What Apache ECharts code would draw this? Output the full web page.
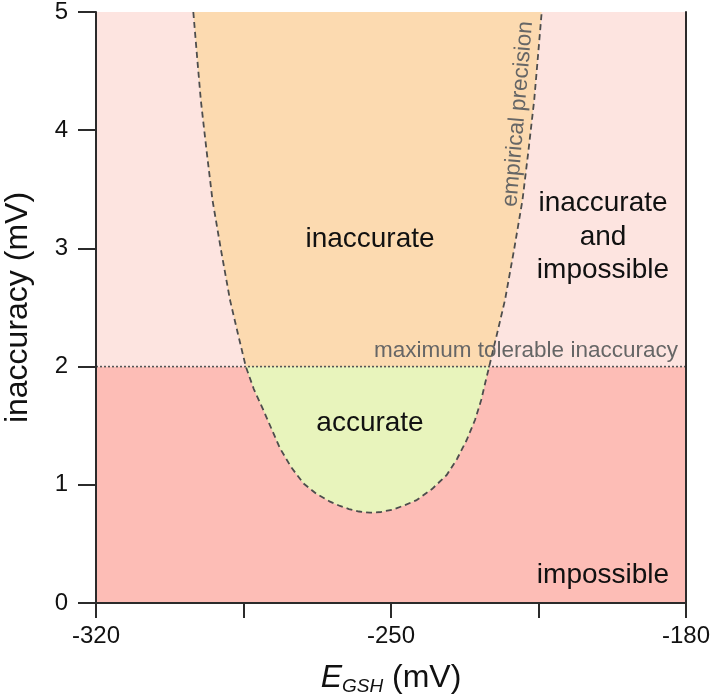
<!DOCTYPE html>
<html>
<head>
<meta charset="utf-8">
<script src="https://cdn.jsdelivr.net/npm/echarts@6/dist/echarts.min.js"></script>
<style>
  html, body { margin: 0; padding: 0; background: #fff; }
  #main { width: 710px; height: 697px; }
</style>
</head>
<body>
<div id="main"></div>
<script>
// curve (E_GSH mV, inaccuracy mV)
var curveX = [-296.91, -296.03, -295.13, -293.78, -292.36, -290.34, -288.20, -286.31, -284.45,
              -282.56, -280.30, -278.24, -276.34, -273.73, -270.81, -267.80, -264.47, -262.10,
              -259.97, -257.59, -254.98,
              -252.37, -249.52, -246.91, -243.90, -240.27, -236.78, -234.34, -232.04, -230.07,
              -228.60, -227.65, -226.70, -224.85, -222.95, -220.81, -218.80, -217.37, -216.02,
              -215.12, -214.24];
var curveY = [5.0, 4.628, 4.255, 3.832, 3.409, 2.986, 2.563, 2.276, 2.0,
              1.810, 1.633, 1.464, 1.309, 1.151, 1.013, 0.926, 0.857, 0.821,
              0.795, 0.774, 0.764,
              0.770, 0.791, 0.825, 0.871, 0.964, 1.083, 1.218, 1.379, 1.548,
              1.717, 1.861, 2.0, 2.276, 2.563, 2.986, 3.409, 3.832, 4.255,
              4.628, 5.0];
var maxTolerable = 2;
var yBands = [[0, 2], [2, 5]];
var xTicks = [-320, -250, -180];

var font = 'Liberation Sans, Arial, Helvetica, sans-serif';

var curve = [];
var inside = [];
for (var i = 0; i < curveX.length; i++) {
	curve.push([curveX[i], curveY[i]]);
	if (curveY[i] <= maxTolerable) {
		inside.push([curveX[i], curveY[i]]);
	}
}

var myChart = echarts.init(document.getElementById('main'));

var axisStyle = { color: '#2b2b2b', width: 2 };

var option = {
	animation: false,
	textStyle: { fontFamily: font },
	grid: { left: 96, right: 24, top: 12, bottom: 94, outerBoundsMode: 'none', containLabel: false },
	xAxis: [{
		type: 'value',
		min: -320,
		max: -180,
		interval: 35,
		z: 10,
		axisLine: { lineStyle: axisStyle },
		axisTick: { length: 15, lineStyle: axisStyle },
		splitLine: { show: false },
		axisLabel: {
			fontSize: 24,
			color: '#111',
			margin: 21,
			fontFamily: font,
			formatter: function (v) {
				return xTicks.indexOf(v) >= 0 ? String(v) : '';
			}
		},
		name: '{e|E}{s|GSH}{n| (mV)}',
		nameLocation: 'middle',
		nameGap: 58,
		nameTextStyle: {
			rich: {
				e: { fontSize: 32, fontStyle: 'italic', color: '#111', fontFamily: font },
				s: { fontSize: 19, fontStyle: 'italic', color: '#111', fontFamily: font, padding: [16, 0, 0, 0] },
				n: { fontSize: 32, color: '#111', fontFamily: font }
			}
		}
	}, {
		type: 'value',
		position: 'top',
		min: -320,
		max: -180,
		z: 10,
		axisLine: { lineStyle: axisStyle },
		axisTick: { show: false },
		axisLabel: { show: false },
		splitLine: { show: false }
	}],
	yAxis: [{
		type: 'value',
		min: 0,
		max: 5,
		interval: 1,
		z: 10,
		axisLine: { show: true, lineStyle: axisStyle },
		axisTick: { show: true, length: 18, lineStyle: axisStyle },
		splitLine: { show: false },
		axisLabel: { fontSize: 24, color: '#111', margin: 28, fontFamily: font },
		name: 'inaccuracy (mV)',
		nameLocation: 'middle',
		nameGap: 62,
		nameRotate: 90,
		nameTextStyle: { fontSize: 32, color: '#111', fontFamily: font }
	}, {
		type: 'value',
		position: 'right',
		min: 0,
		max: 5,
		z: 10,
		axisLine: { show: true, lineStyle: axisStyle },
		axisTick: { show: false },
		axisLabel: { show: false },
		splitLine: { show: false }
	}],
	series: [
		{
			// 背景区域
			name: 'bg',
			type: 'line',
			data: [],
			z: 1,
			markArea: {
				silent: true,
				data: [
					[{ yAxis: yBands[0][0], itemStyle: { color: '#fdbdb6' } }, { yAxis: yBands[0][1] }],
					[{ yAxis: yBands[1][0], itemStyle: { color: '#fde4e0' } }, { yAxis: yBands[1][1] }]
				]
			}
		},
		{
			name: 'inaccurate',
			type: 'line',
			data: curve,
			showSymbol: false,
			z: 2,
			lineStyle: { width: 0 },
			areaStyle: { color: '#fcdab0', opacity: 1, origin: 'end' }
		},
		{
			name: 'accurate',
			type: 'line',
			data: inside,
			showSymbol: false,
			z: 3,
			lineStyle: { width: 0 },
			areaStyle: { color: '#e8f4bc', opacity: 1, origin: maxTolerable }
		},
		{
			name: 'limit',
			type: 'line',
			data: [[-320, maxTolerable], [-180, maxTolerable]],
			showSymbol: false,
			z: 4,
			lineStyle: { color: '#555', width: 1.6, type: [2, 2] }
		},
		{
			name: 'empirical precision',
			type: 'line',
			data: curve,
			showSymbol: false,
			z: 5,
			lineStyle: { color: '#4d4d4d', width: 1.8, type: [6, 4], join: 'round' }
		}
	],
	graphic: [
		{ type: 'text', x: 370, y: 239, z: 20,
		  style: { text: 'inaccurate', fontSize: 28, fill: '#111', fontFamily: font,
		           align: 'center', verticalAlign: 'middle' } },
		{ type: 'text', x: 370, y: 423, z: 20,
		  style: { text: 'accurate', fontSize: 28, fill: '#111', fontFamily: font,
		           align: 'center', verticalAlign: 'middle' } },
		{ type: 'text', x: 603, y: 237, z: 20,
		  style: { text: 'inaccurate\nand\nimpossible', fontSize: 28, lineHeight: 33.5,
		           fill: '#111', fontFamily: font, align: 'center', verticalAlign: 'middle' } },
		{ type: 'text', x: 603, y: 575, z: 20,
		  style: { text: 'impossible', fontSize: 28, fill: '#111', fontFamily: font,
		           align: 'center', verticalAlign: 'middle' } },
		{ type: 'text', x: 526, y: 351, z: 20,
		  style: { text: 'maximum tolerable inaccuracy', fontSize: 22.5, fill: '#666', fontFamily: font,
		           align: 'center', verticalAlign: 'middle' } },
		{ type: 'text', x: 518, y: 114, rotation: 1.485, z: 20,
		  style: { text: 'empirical precision', fontSize: 22.5, fill: '#666', fontFamily: font,
		           align: 'center', verticalAlign: 'middle' } }
	]
};

myChart.setOption(option);
</script>
</body>
</html>
